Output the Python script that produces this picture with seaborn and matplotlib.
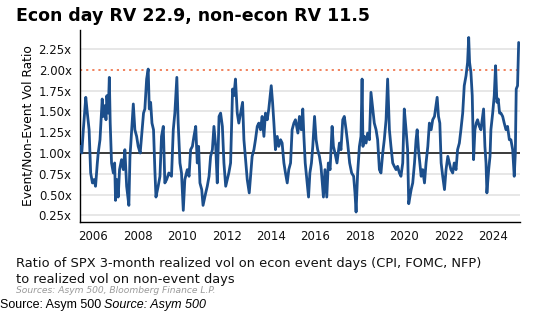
import matplotlib
matplotlib.use("Agg")
import matplotlib.pyplot as plt
import seaborn as sns
import pandas as pd

# ---- data (decimal year, ratio) ----
years = [
    2005.41, 2005.48, 2005.55, 2005.66, 2005.73, 2005.81, 2005.88, 2005.96, 2006.03, 2006.10,
    2006.18, 2006.22, 2006.30, 2006.40, 2006.45, 2006.52, 2006.57, 2006.61, 2006.67, 2006.72,
    2006.76, 2006.82, 2006.90, 2006.96, 2007.00, 2007.06, 2007.12, 2007.18, 2007.27, 2007.35,
    2007.42, 2007.50, 2007.60, 2007.65, 2007.69, 2007.80, 2007.87, 2007.95, 2008.02, 2008.11,
    2008.20, 2008.26, 2008.32, 2008.40, 2008.47, 2008.52, 2008.58, 2008.64, 2008.71, 2008.77,
    2008.82, 2008.92, 2009.00, 2009.07, 2009.15, 2009.22, 2009.30, 2009.40, 2009.52, 2009.60,
    2009.67, 2009.76, 2009.82, 2009.90, 2009.97, 2010.05, 2010.12, 2010.23, 2010.31, 2010.38,
    2010.46, 2010.53, 2010.61, 2010.68, 2010.74, 2010.80, 2010.88, 2010.94, 2011.06, 2011.13,
    2011.21, 2011.28, 2011.36, 2011.43, 2011.51, 2011.58, 2011.66, 2011.73, 2011.81, 2011.88,
    2011.96, 2012.03, 2012.10, 2012.18, 2012.22, 2012.27, 2012.33, 2012.40, 2012.48, 2012.55,
    2012.63, 2012.72, 2012.78, 2012.93, 2013.02, 2013.08, 2013.15, 2013.23, 2013.30, 2013.38,
    2013.45, 2013.53, 2013.60, 2013.68, 2013.75, 2013.83, 2013.90, 2014.01, 2014.07, 2014.13,
    2014.20, 2014.28, 2014.35, 2014.43, 2014.50, 2014.58, 2014.65, 2014.73, 2014.80, 2014.88,
    2014.95, 2015.03, 2015.10, 2015.21, 2015.28, 2015.36, 2015.43, 2015.48, 2015.54, 2015.60,
    2015.69, 2015.75, 2015.82, 2015.88, 2015.96, 2016.03, 2016.10, 2016.18, 2016.25, 2016.36,
    2016.43, 2016.51, 2016.58, 2016.66, 2016.75, 2016.81, 2016.88, 2016.97, 2017.08, 2017.15,
    2017.23, 2017.30, 2017.38, 2017.45, 2017.54, 2017.63, 2017.72, 2017.78, 2017.83, 2017.90,
    2017.98, 2018.05, 2018.10, 2018.14, 2018.20, 2018.28, 2018.35, 2018.43, 2018.50, 2018.58,
    2018.65, 2018.73, 2018.80, 2018.88, 2018.95, 2019.03, 2019.10, 2019.18, 2019.25, 2019.33,
    2019.40, 2019.48, 2019.55, 2019.63, 2019.70, 2019.78, 2019.85, 2019.93, 2020.00, 2020.08,
    2020.15, 2020.20, 2020.31, 2020.38, 2020.46, 2020.53, 2020.58, 2020.64, 2020.70, 2020.76,
    2020.83, 2020.91, 2020.98, 2021.06, 2021.13, 2021.21, 2021.28, 2021.36, 2021.43, 2021.48,
    2021.54, 2021.60, 2021.66, 2021.73, 2021.81, 2021.88, 2021.96, 2022.03, 2022.10, 2022.18,
    2022.25, 2022.33, 2022.40, 2022.48, 2022.55, 2022.63, 2022.70, 2022.78, 2022.85, 2022.90,
    2022.94, 2023.00, 2023.06, 2023.12, 2023.18, 2023.24, 2023.30, 2023.38, 2023.45, 2023.53,
    2023.57, 2023.63, 2023.68, 2023.72, 2023.80, 2023.86, 2023.90, 2023.98, 2024.05, 2024.11,
    2024.17, 2024.23, 2024.29, 2024.35, 2024.43, 2024.50, 2024.58, 2024.65, 2024.73, 2024.80,
    2024.88, 2024.95, 2025.00, 2025.04, 2025.10, 2025.15,
]
ratio = [
    1.08, 1.00, 1.28, 1.67, 1.48, 1.28, 0.76, 0.64, 0.68, 0.60,
    0.88, 1.00, 1.16, 1.65, 1.44, 1.57, 1.40, 1.69, 1.48, 1.91,
    1.36, 0.88, 0.76, 0.88, 0.43, 0.68, 0.47, 0.80, 0.92, 0.80,
    1.04, 0.60, 0.37, 0.96, 1.12, 1.59, 1.28, 1.20, 1.08, 1.00,
    1.28, 1.48, 1.53, 1.89, 2.01, 1.53, 1.61, 1.36, 1.28, 0.80,
    0.47, 0.60, 0.72, 1.20, 1.32, 0.64, 0.68, 0.76, 0.72, 1.28,
    1.48, 1.91, 1.36, 0.88, 0.76, 0.31, 0.68, 0.80, 0.72, 1.04,
    1.08, 1.20, 1.32, 0.88, 1.08, 0.64, 0.56, 0.37, 0.52, 0.60,
    0.72, 0.96, 1.04, 1.32, 1.08, 0.64, 1.44, 1.48, 1.32, 0.88,
    0.60, 0.68, 0.76, 0.88, 1.28, 1.77, 1.69, 1.89, 1.48, 1.36,
    1.48, 1.61, 1.16, 0.68, 0.52, 0.72, 0.96, 1.04, 1.16, 1.32,
    1.36, 1.28, 1.44, 1.20, 1.48, 1.40, 1.53, 1.81, 1.61, 1.36,
    1.04, 1.20, 1.08, 1.16, 1.12, 0.88, 0.76, 0.64, 0.80, 0.88,
    1.28, 1.36, 1.40, 1.24, 1.44, 1.28, 1.53, 1.20, 0.88, 0.72,
    0.47, 0.76, 0.88, 1.08, 1.44, 1.16, 1.04, 0.96, 0.84, 0.47,
    0.80, 0.47, 0.88, 0.80, 1.32, 1.08, 1.00, 0.88, 1.12, 1.04,
    1.40, 1.44, 1.28, 1.12, 0.88, 0.76, 0.72, 0.52, 0.29, 0.76,
    1.08, 1.20, 1.89, 1.08, 1.20, 1.12, 1.24, 1.16, 1.73, 1.53,
    1.36, 1.28, 1.16, 0.80, 0.76, 1.00, 1.16, 1.40, 1.89, 1.28,
    1.08, 0.88, 0.84, 0.80, 0.84, 0.76, 0.72, 0.88, 1.53, 1.28,
    1.04, 0.39, 0.56, 0.64, 0.88, 1.16, 1.28, 1.04, 0.88, 0.72,
    0.80, 0.64, 0.88, 1.08, 1.36, 1.28, 1.40, 1.44, 1.57, 1.67,
    1.44, 1.36, 0.88, 0.72, 0.56, 0.80, 0.96, 0.88, 0.80, 0.76,
    0.88, 0.80, 1.04, 1.12, 1.28, 1.48, 1.81, 1.93, 2.09, 2.39,
    2.09, 1.97, 1.69, 0.92, 1.28, 1.36, 1.40, 1.32, 1.28, 1.44,
    1.53, 1.08, 0.88, 0.52, 0.80, 0.96, 1.28, 1.48, 1.69, 2.05,
    1.61, 1.65, 1.48, 1.48, 1.44, 1.36, 1.28, 1.32, 1.16, 1.16,
    1.04, 0.72, 1.00, 1.77, 1.81, 2.33,
]
x_ticks = [2006, 2008, 2010, 2012, 2014, 2016, 2018, 2020, 2022, 2024]
y_ticks = [0.25, 0.50, 0.75, 1.00, 1.25, 1.50, 1.75, 2.00, 2.25]
y_tick_labels = ["0.25x", "0.50x", "0.75x", "1.00x", "1.25x", "1.50x", "1.75x", "2.00x", "2.25x"]
ref_line = 1.00
threshold = 2.00

title = "Econ day RV 22.9, non-econ RV 11.5"
caption = "Ratio of SPX 3-month realized vol on econ event days (CPI, FOMC, NFP)\nto realized vol on non-event days"
sources = "Sources: Asym 500, Bloomberg Finance L.P."

df = pd.DataFrame({"year": years, "ratio": ratio})

sns.set_style("white")
plt.rcParams["font.family"] = ["DejaVu Sans"]
plt.rcParams["text.color"] = "black"
plt.rcParams["axes.labelcolor"] = "black"
plt.rcParams["xtick.color"] = "black"
plt.rcParams["ytick.color"] = "black"

W, H = 557, 335
fig = plt.figure(figsize=(W / 100, H / 100), dpi=100, facecolor="white")
ax = fig.add_axes([80 / W, 1 - 222 / H, 440 / W, (222 - 30) / H])

for yv in y_ticks:
    if yv in (ref_line, threshold):
        continue
    ax.axhline(yv, color="#e3e3e3", lw=1.2, zorder=0)
ax.axhline(ref_line, color="#3a3a3a", lw=1.4, zorder=1)
ax.axhline(threshold, color="#f07850", lw=1.3, ls=(0, (1.2, 2.2)), zorder=1)

sns.lineplot(data=df, x="year", y="ratio", ax=ax, color="#1c4f8c", lw=2.0, zorder=3)

ax.set_xlim(2005.40, 2025.21)
ax.set_ylim(0.17, 2.48)
ax.set_xticks(x_ticks)
ax.set_xticklabels([str(t) for t in x_ticks], fontsize=8.5)
ax.set_yticks(y_ticks)
ax.set_yticklabels(y_tick_labels, fontsize=8.5)
ax.set_xlabel("")
ax.set_ylabel("Event/Non-Event Vol Ratio", fontsize=8.8, labelpad=3)
ax.tick_params(axis="both", direction="out", length=4, width=1, color="black",
               labelcolor="#111111", pad=2)
for s in ("top", "right"):
    ax.spines[s].set_visible(False)
for s in ("left", "bottom"):
    ax.spines[s].set_color("black")
    ax.spines[s].set_linewidth(1.0)

fig.text(16 / W, 1 - 16 / H, title, fontsize=12.5, fontweight="bold", va="center", ha="left",
         color="black")
fig.text(16 / W, 1 - 271.5 / H, caption, fontsize=9.4, va="center", ha="left", linespacing=1.25,
         color="#111111")
fig.text(16 / W, 1 - 290.5 / H, sources, fontsize=6.6, style="italic", color="#9a9a9a",
         va="center", ha="left")
fig.text(0 / W, 1 - 305 / H, "Source: Asym 500", fontsize=9, family="Liberation Sans",
         va="center", ha="left", color="black")
fig.text(104 / W, 1 - 305 / H, "Source: Asym 500", fontsize=9, family="Liberation Sans",
         style="italic", va="center", ha="left", color="black")

fig.savefig("out.png", dpi=100, facecolor="white")
